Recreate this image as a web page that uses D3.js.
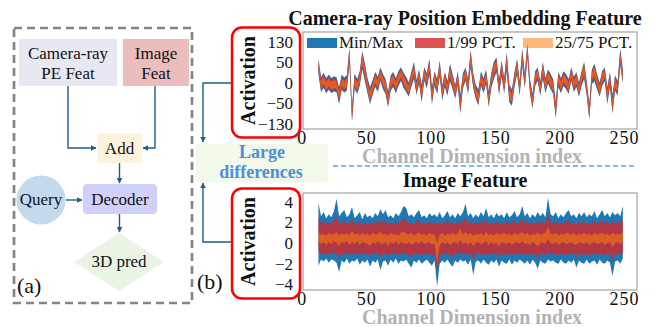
<!DOCTYPE html>
<html>
<head>
<meta charset="utf-8">
<script src="https://cdn.jsdelivr.net/npm/d3@7"></script>
<style>
  body { margin: 0; background: #fff; }
  svg { display: block; font-family: "Liberation Serif", "Times New Roman", serif; }
</style>
</head>
<body>
<div id="chart"></div>
<script>
// channel index of every sample (every 2nd channel)
const channels = d3.range(13, 251, 2);

// camera-ray PE feature, per channel stats
const peMin = [18,-20,-10,-22,-14,-22,-18,-20,-52,-14, -21,-16,45,-120,-12,-24,-6,30,3,-22,
  -52,-26,-8,-19,4,-13,-24,-62,-16,-8, -22,-6,4,-10,-19,-31,-8,8,-26,-2,
  -47,4,-11,18,-52,-6,-24,13,-42,-8, -28,3,-13,-36,-6,-85,-11,4,-24,35,
  -11,-36,-57,-6,-22,-2,-62,-10,8,23, -26,13,-22,25,-47,-57,-8,18,-28,40,
  -11,65,-24,-67,-6,4,-28,8,-22,-1, -13,-24,-105,-8,-22,-6,-13,-24,4,-19,
  -8,-31,-6,8,-28,-110,-2,3,-13,-31, -6,4,-52,-8,-85,-16,-28,40,-1];
const peP1 = [24,-16,-6,-18,-10,-18,-14,-16,-46,-10, -17,-12,53,-112,-8,-20,-2,38,9,-18,
  -46,-22,-4,-15,8,-9,-20,-56,-12,-4, -18,-2,8,-6,-15,-27,-4,14,-22,2,
  -41,8,-7,24,-46,-2,-20,19,-32,-4, -24,9,-9,-32,-2,-77,-7,8,-20,43,
  -7,-32,-51,-2,-18,2,-56,-6,14,29, -22,19,-18,33,-41,-51,-4,24,-24,48,
  -7,73,-20,-61,-2,8,-24,14,-18,3, -9,-20,-97,-4,-18,-2,-9,-20,8,-15,
  -4,-27,-2,14,-24,-102,2,9,-9,-27, -2,8,-46,-4,-77,-12,-24,48,3];
const peP25 = [29,-12,-2,-14,-6,-14,-10,-12,-41,-6, -13,-8,60,-105,-4,-16,2,45,14,-14,
  -41,-18,0,-11,12,-5,-16,-51,-8,0, -14,2,12,-2,-11,-23,0,19,-18,6,
  -36,12,-3,29,-41,2,-16,24,-28,0, -20,14,-5,-28,2,-70,-3,12,-16,50,
  -3,-28,-46,2,-14,6,-51,-2,19,34, -18,24,-14,40,-36,-46,0,29,-20,55,
  -3,80,-16,-56,2,12,-20,19,-14,7, -5,-16,-90,0,-14,2,-5,-16,12,-11,
  0,-23,2,19,-20,-95,6,14,-5,-23, 2,12,-41,0,-70,-8,-20,55,7];
const peP75 = [51,4,14,2,10,2,6,4,-19,10, 3,8,90,-75,12,0,18,75,36,2,
  -19,-2,16,5,28,11,0,-29,8,16, 2,18,28,14,5,-7,16,41,-2,22,
  -14,28,13,51,-19,18,0,46,-12,16, -4,36,11,-12,18,-40,13,28,0,80,
  13,-12,-24,18,2,22,-29,14,41,56, -2,46,2,70,-14,-24,16,51,-4,85,
  13,110,0,-34,18,28,-4,41,2,23, 11,0,-60,16,2,18,11,0,28,5,
  16,-7,18,41,-4,-65,22,36,11,-7, 18,28,-19,16,-40,8,-4,85,23];
const peP99 = [56,8,18,6,14,6,10,8,-14,14, 7,12,97,-68,16,4,22,82,41,6,
  -14,2,20,9,32,15,4,-24,12,20, 6,22,32,18,9,-3,20,46,2,26,
  -9,32,17,56,-14,22,4,51,-8,20, 0,41,15,-8,22,-33,17,32,4,87,
  17,-8,-19,22,6,26,-24,18,46,61, 2,51,6,77,-9,-19,20,56,0,92,
  17,117,4,-29,22,32,0,46,6,27, 15,4,-53,20,6,22,15,4,32,9,
  20,-3,22,46,0,-58,26,41,15,-3, 22,32,-14,20,-33,12,0,92,27];
const peMax = [62,12,22,10,18,10,14,12,-8,18, 11,16,105,-60,20,8,26,90,47,10,
  -8,6,24,13,36,19,8,-18,16,24, 10,26,36,22,13,1,24,52,6,30,
  -3,36,21,62,-8,26,8,57,-4,24, 4,47,19,-4,26,-25,21,36,8,95,
  21,-4,-13,26,10,30,-18,22,52,67, 6,57,10,85,-3,-13,24,62,4,100,
  21,125,8,-23,26,36,4,52,10,31, 19,8,-45,24,10,26,19,8,36,13,
  24,1,26,52,4,-50,30,47,19,1, 26,36,-8,24,-25,16,4,100,31];

// image feature, per channel stats
const imgMin = [-2.2,-1.6,-1.8,-1.5,-1.9,-1.6,-1.7,-1.9,-2.8,-1.7, -1.9,-1.5,-2.0,-1.7,-1.8,-1.5,-2.1,-1.7,-1.9,-1.6,
  -2.3,-1.7,-1.9,-1.6,-2.6,-1.8,-1.7,-2.2,-1.6,-1.9, -1.5,-2.0,-1.7,-1.8,-1.6,-2.0,-2.4,-1.7,-1.9,-1.6,
  -2.0,-1.8,-1.6,-1.9,-2.2,-1.7,-4.2,-2.0,-1.7,-1.9, -1.6,-2.0,-2.3,-1.7,-1.9,-1.6,-1.8,-1.7,-2.1,-1.6,
  -3.1,-1.8,-1.7,-2.0,-1.6,-1.9,-2.1,-1.7,-1.9,-1.6, -2.3,-1.7,-1.9,-2.0,-1.6,-2.1,-1.7,-1.9,-1.6,-1.8,
  -2.0,-1.7,-2.1,-1.6,-1.9,-2.5,-1.7,-1.9,-2.0,-1.6, -1.8,-1.7,-1.9,-2.0,-1.6,-1.9,-2.0,-1.7,-1.9,-1.6,
  -2.4,-1.7,-1.9,-2.0,-1.6,-2.0,-1.8,-1.7,-2.1,-1.6, -1.9,-2.0,-1.7,-1.9,-3.2,-1.8,-1.7,-2.0,-1.5];
const imgP1 = [-0.9,-1.1,-0.9,-1.2,-1.0,-1.1,-0.9,-1.0,-1.5,-1.0, -1.1,-0.9,-1.2,-1.0,-1.1,-0.9,-1.2,-1.0,-1.1,-1.0,
  -1.3,-1.0,-1.1,-0.9,-1.4,-1.1,-1.0,-1.3,-1.0,-1.1, -0.9,-1.2,-1.0,-1.1,-1.0,-1.2,-1.4,-1.0,-1.1,-1.0,
  -1.2,-1.1,-1.0,-1.1,-1.3,-1.0,-2.8,-1.2,-1.0,-1.1, -1.0,-1.2,-1.4,-1.0,-1.1,-0.9,-1.1,-1.0,-1.2,-1.0,
  -1.6,-1.1,-1.0,-1.2,-1.0,-1.1,-1.2,-1.0,-1.1,-1.0, -1.4,-1.0,-1.1,-1.2,-1.0,-1.2,-1.0,-1.1,-1.0,-1.1,
  -1.2,-1.0,-1.2,-1.0,-1.1,-1.5,-1.0,-1.1,-1.2,-0.9, -1.1,-1.0,-1.1,-1.2,-1.0,-1.1,-1.2,-1.0,-1.1,-1.0,
  -1.4,-1.0,-1.1,-1.2,-1.0,-1.2,-1.1,-1.0,-1.2,-1.0, -1.1,-1.2,-1.0,-1.1,-1.7,-1.1,-1.0,-1.2,-0.9];
const imgP25 = [0.2,-0.1,0.1,-0.2,0.1,-0.1,0.2,0.0,-0.3,0.1, 0.0,0.2,-0.2,0.1,-0.1,0.2,-0.2,0.1,0.0,-0.1,
  -0.3,0.1,-0.1,0.2,0.0,-0.1,0.1,-0.3,0.1,-0.1, 0.2,-0.2,0.1,0.0,-0.1,0.1,-0.2,0.0,0.1,-0.1,
  0.2,-0.1,0.0,0.1,-0.2,0.0,-2.0,-0.2,0.1,-0.1, 0.1,-0.2,0.0,0.1,-0.1,0.3,-0.1,0.1,-0.2,0.1,
  -0.3,0.0,0.1,-0.1,0.0,0.2,-0.2,0.1,-0.1,0.0, -0.3,0.1,0.0,-0.1,0.1,-0.2,0.0,0.1,-0.1,0.2,
  -0.1,0.0,-0.2,0.1,-0.1,-0.3,0.0,0.1,-0.1,0.4, 0.0,-0.1,0.1,-0.2,0.0,0.1,-0.1,0.0,0.1,-0.1,
  -0.2,0.1,0.0,-0.1,0.1,-0.2,0.0,0.1,-0.1,0.0, 0.1,-0.2,0.0,0.1,-0.4,0.0,0.1,-0.1,0.2];
const imgP75 = [1.0,0.8,0.9,0.7,1.0,0.8,0.9,1.1,0.7,0.9, 0.8,1.0,0.7,1.2,0.8,0.9,0.7,1.0,0.8,0.9,
  0.7,1.0,0.8,0.9,1.1,0.8,0.9,0.7,1.0,0.8, 0.9,0.7,1.0,1.1,0.9,0.8,1.0,0.7,0.9,1.0,
  0.8,0.9,0.7,1.0,0.8,0.9,0.0,0.8,1.0,0.7, 0.9,0.8,1.0,0.8,0.9,1.4,0.8,1.1,0.8,1.0,
  0.7,0.9,0.8,1.0,0.7,1.1,0.8,0.9,0.7,1.0, 0.8,0.9,1.0,0.8,0.9,0.7,1.0,0.8,0.9,1.1,
  0.8,1.0,0.7,0.9,0.8,1.0,0.8,0.9,1.0,1.6, 0.9,0.8,1.0,0.7,0.9,0.8,1.0,0.9,0.8,1.0,
  0.7,0.9,0.8,1.0,0.8,0.9,0.7,1.0,0.8,0.9, 1.0,0.8,0.9,0.7,1.0,0.8,0.9,0.8,1.1];
const imgP99 = [2.5,1.9,2.1,1.8,2.0,1.9,2.2,2.6,1.9,2.0, 2.1,1.8,2.0,2.3,1.8,1.9,2.1,1.7,2.0,1.8,
  2.0,1.8,2.1,1.9,2.2,2.0,2.1,1.8,2.0,1.8, 2.1,1.9,2.1,2.4,2.2,1.9,2.0,1.8,2.1,2.2,
  1.8,2.0,1.8,2.1,1.9,2.0,1.8,2.1,1.8,2.0, 2.2,1.8,2.0,1.8,2.1,1.9,2.1,2.5,1.9,2.1,
  1.8,2.0,1.9,2.1,1.9,2.3,1.8,2.0,1.8,2.1, 1.9,2.0,1.8,2.1,1.9,2.0,2.2,1.8,2.0,2.4,
  1.9,2.1,1.8,2.0,1.8,2.1,1.9,2.1,1.8,2.9, 2.0,1.9,2.1,1.8,2.0,1.8,2.1,2.2,1.9,2.0,
  1.8,2.1,1.9,2.1,1.8,2.0,1.9,2.2,1.8,2.0, 2.2,1.9,2.1,1.8,2.1,1.9,2.1,1.9,2.4];
const imgMax = [3.9,2.6,3.0,2.4,2.8,2.5,3.1,4.3,2.6,2.9, 3.2,2.5,2.8,3.5,2.4,2.7,3.0,2.3,2.9,2.5,
  2.7,2.4,2.9,2.6,3.3,2.8,3.2,2.5,2.7,2.4, 2.9,2.6,3.0,3.6,3.4,2.6,2.8,2.5,2.9,3.2,
  2.5,2.7,2.4,2.9,2.6,2.8,2.5,3.0,2.4,2.7, 3.1,2.5,2.8,2.4,2.9,2.6,3.0,3.8,2.6,2.9,
  2.4,2.8,2.5,3.0,2.6,3.4,2.5,2.8,2.4,2.9, 2.6,2.8,2.4,3.0,2.5,2.7,3.1,2.5,2.8,3.6,
  2.6,2.9,2.4,2.8,2.5,3.0,2.6,2.9,2.5,4.4, 2.8,2.6,3.0,2.4,2.8,2.5,2.9,3.2,2.6,2.8,
  2.4,2.9,2.6,3.0,2.5,2.8,2.6,3.1,2.4,2.8, 3.2,2.6,2.9,2.5,3.0,2.7,2.9,2.6,3.6];

const peTicks = [-130, -50, 0, 50, 130];
const imgTicks = [-4, -2, 0, 2, 4];
const xTicks = [0, 50, 100, 150, 200, 250];
const legendLabels = ["Min/Max", "1/99 PCT.", "25/75 PCT."];
const bandColors = ["#1f77b4", "rgba(214,39,40,0.8)", "rgba(255,127,14,0.55)"];

const arrowColor = "#1f5f85";
const svg = d3.select("#chart").append("svg").attr("width", 655).attr("height", 327);

svg.append("defs").append("marker")
  .attr("id", "arr")
  .attr("viewBox", "0 0 10 10")
  .attr("refX", 9)
  .attr("refY", 5)
  .attr("markerUnits", "userSpaceOnUse")
  .attr("markerWidth", 6)
  .attr("markerHeight", 6)
  .attr("orient", "auto")
  .append("path")
  .attr("d", "M0,0 L10,5 L0,10 z")
  .attr("fill", arrowColor);

function arrow(points) {
  svg.append("path")
    .attr("d", d3.line()(points))
    .attr("fill", "none")
    .attr("stroke", arrowColor)
    .attr("stroke-width", 1.4)
    .attr("marker-end", "url(#arr)");
}

function label(x, y, txt, size, opts = {}) {
  return svg.append("text")
    .attr("x", x)
    .attr("y", y)
    .attr("text-anchor", opts.anchor || "middle")
    .attr("font-size", size)
    .attr("font-weight", opts.bold ? "bold" : null)
    .attr("fill", opts.fill || "#111")
    .text(txt);
}

// ---- (a) pipeline sketch ----
svg.append("rect").attr("x", 14).attr("y", 28).attr("width", 178).attr("height", 275)
  .attr("fill", "none").attr("stroke", "#858585").attr("stroke-width", 2.7).attr("stroke-dasharray", "8 5");

svg.append("rect").attr("x", 19).attr("y", 39).attr("width", 98).attr("height", 47).attr("fill", "#e8e8f1");
svg.append("rect").attr("x", 123).attr("y", 39).attr("width", 66).attr("height", 47).attr("fill", "#ecbdbd");
label(68, 59, "Camera-ray", 17);
label(68, 79, "PE Feat", 17);
label(156, 59, "Image", 17);
label(156, 79, "Feat", 17);

svg.append("rect").attr("x", 97).attr("y", 133).attr("width", 45).attr("height", 30).attr("rx", 4).attr("fill", "#fdf3dc");
label(119.5, 154, "Add", 17);
svg.append("rect").attr("x", 83).attr("y", 184).attr("width", 74).attr("height", 30).attr("rx", 4).attr("fill", "#d0d0fb");
label(120, 205, "Decoder", 17);
svg.append("circle").attr("cx", 41).attr("cy", 200).attr("r", 24.5).attr("fill", "#c3d9ec");
label(41, 205, "Query", 17);
svg.append("path").attr("d", "M119,233 L164,262 L119,291 L74,262 Z").attr("fill", "#eaf4e4");
label(119, 267, "3D pred", 17);

arrow([[68, 86], [68, 148], [96, 148]]);
arrow([[155, 86], [155, 148], [143, 148]]);
arrow([[119.5, 163], [119.5, 183]]);
arrow([[66, 200], [82, 200]]);
arrow([[119.5, 214], [119.5, 232]]);
label(17, 293, "(a)", 22, { anchor: "start" });
label(197, 289, "(b)", 22, { anchor: "start" });

// ---- (b) activation panels ----
const x = d3.scaleLinear().domain([1, 260]).range([303, 637]);
const yPE = d3.scaleSymlog().constant(83.33).domain([-156, 185]).range([129, 32]);
const yImg = d3.scaleLinear().domain([-4.55, 4.85]).range([290, 193]);

function panel(id, y, ticks, bands, title, titleY) {
  const [top, bottom] = [y.range()[1], y.range()[0]];
  svg.append("clipPath").attr("id", id).append("rect")
    .attr("x", 303).attr("y", top).attr("width", 334).attr("height", bottom - top);
  const g = svg.append("g").attr("clip-path", `url(#${id})`);
  bands.forEach(([lo, hi], k) => {
    g.append("path")
      .datum(channels)
      .attr("fill", bandColors[k])
      .attr("d", d3.area()
        .x((d) => x(d))
        .y0((d, i) => y(lo[i]))
        .y1((d, i) => y(hi[i])));
  });
  svg.append("rect").attr("x", 303).attr("y", top).attr("width", 334).attr("height", bottom - top)
    .attr("fill", "none").attr("stroke", "#a3a3a3").attr("stroke-width", 1.2);

  svg.append("g")
    .attr("transform", `translate(0,${bottom})`)
    .call(d3.axisBottom(x).tickValues(xTicks).tickSize(0).tickPadding(2))
    .call((a) => a.select(".domain").remove())
    .attr("font-family", null)
    .attr("font-size", 18)
    .selectAll("text").attr("fill", "#111").style("letter-spacing", "1px");

  svg.append("g")
    .attr("transform", "translate(303,0)")
    .call(d3.axisLeft(y).tickValues(ticks).tickSize(0).tickPadding(10))
    .call((a) => a.select(".domain").remove())
    .attr("font-family", null)
    .attr("font-size", 17)
    .selectAll("text").attr("fill", "#111");

  const mid = (top + bottom) / 2;
  svg.append("rect").attr("x", 232).attr("y", top - 4.5).attr("width", 68).attr("height", bottom - top + 13)
    .attr("rx", 10).attr("fill", "none").attr("stroke", "#ff0000").attr("stroke-width", 2.5);
  svg.append("text")
    .attr("transform", `translate(248,${mid}) rotate(-90)`)
    .attr("dy", "0.35em")
    .attr("text-anchor", "middle")
    .attr("font-size", 20)
    .attr("font-weight", "bold")
    .attr("fill", "#111")
    .text("Activation");
  label(465, titleY, title, 20, { bold: true });
  label(472, bottom + 34, "Channel Dimension index", 20, { bold: true, fill: "#b3b3b3" });
}

panel("clipPE", yPE, peTicks,
  [[peMin, peMax], [peP1, peP99], [peP25, peP75]],
  "Camera-ray Position Embedding Feature", 25);
panel("clipImg", yImg, imgTicks,
  [[imgMin, imgMax], [imgP1, imgP99], [imgP25, imgP75]],
  "Image Feature", 187);

// legend
const legendX = [307, 415, 523];
legendLabels.forEach((txt, k) => {
  svg.append("rect").attr("x", legendX[k]).attr("y", 38).attr("width", 30).attr("height", 10)
    .attr("fill", bandColors[k]);
  label(legendX[k] + 32, 48, txt, 17, { anchor: "start" });
});

// "Large differences" callout
svg.append("rect").attr("x", 196).attr("y", 144).attr("width", 132).attr("height", 38).attr("rx", 3).attr("fill", "#f3f9ea");
label(262, 158, "Large", 18, { bold: true, fill: "#4a90d9" });
label(261, 178, "differences", 18, { bold: true, fill: "#4a90d9" });
svg.append("line").attr("x1", 333).attr("x2", 636).attr("y1", 166).attr("y2", 166)
  .attr("stroke", "#3fb0e3").attr("stroke-width", 1.3).attr("stroke-dasharray", "5 3");
arrow([[232, 83], [203, 83], [203, 142]]);
arrow([[232, 242], [203, 242], [203, 183]]);
</script>
</body>
</html>
